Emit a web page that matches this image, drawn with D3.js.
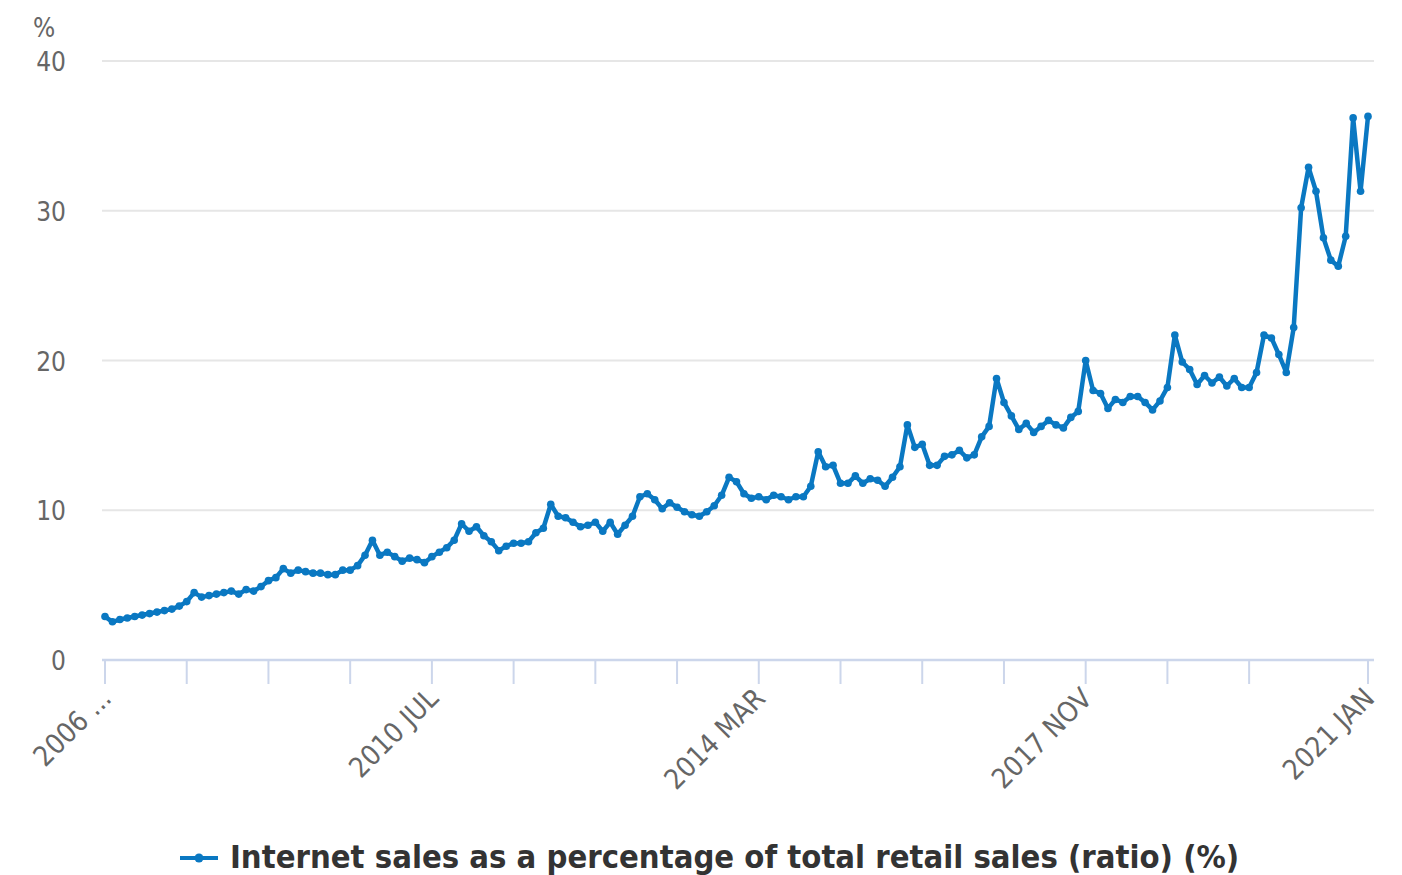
<!DOCTYPE html>
<html>
<head>
<meta charset="utf-8">
<style>
  body { margin: 0; background: #fff; }
  svg { display: block; font-family: "DejaVu Sans", sans-serif; }
  .cond { font-stretch: condensed; }
</style>
</head>
<body>
<script src="https://cdn.jsdelivr.net/npm/d3@7"></script>
<script>
// monthly series, Nov 2006 .. Jan 2021
var startMonth = new Date(2006, 10, 1)
var values = [
  2.9, 2.55, 2.7, 2.8, 2.9, 3.0, 3.1, 3.2, 3.3, 3.4, 3.6, 3.9,
  4.5, 4.2, 4.3, 4.4, 4.5, 4.6, 4.4, 4.7, 4.6, 4.9, 5.3, 5.5,
  6.1, 5.8, 6.0, 5.9, 5.8, 5.8, 5.7, 5.7, 6.0, 6.0, 6.3, 7.0,
  8.0, 7.0, 7.2, 6.9, 6.6, 6.8, 6.7, 6.5, 6.9, 7.2, 7.5, 8.0,
  9.1, 8.6, 8.9, 8.3, 7.9, 7.3, 7.6, 7.8, 7.8, 7.9, 8.5, 8.8,
  10.4, 9.6, 9.5, 9.2, 8.9, 9.0, 9.2, 8.6, 9.2, 8.4, 9.0, 9.6,
  10.9, 11.1, 10.7, 10.1, 10.5, 10.2, 9.9, 9.7, 9.6, 9.9, 10.3, 11.0,
  12.2, 11.9, 11.1, 10.8, 10.9, 10.7, 11.0, 10.9, 10.7, 10.9, 10.9, 11.6,
  13.9, 12.9, 13.0, 11.8, 11.8, 12.3, 11.8, 12.1, 12.0, 11.6, 12.2, 12.9,
  15.7, 14.2, 14.4, 13.0, 13.0, 13.6, 13.7, 14.0, 13.5, 13.7, 14.9, 15.6,
  18.8, 17.2, 16.3, 15.4, 15.8, 15.2, 15.6, 16.0, 15.7, 15.5, 16.2, 16.6,
  20.0, 18.0, 17.8, 16.8, 17.4, 17.2, 17.6, 17.6, 17.2, 16.7, 17.3, 18.2,
  21.7, 19.9, 19.4, 18.4, 19.0, 18.5, 18.9, 18.3, 18.8, 18.2, 18.2, 19.2,
  21.7, 21.5, 20.4, 19.2, 22.2, 30.2, 32.9, 31.3, 28.2, 26.7, 26.3, 28.3,
  36.2, 31.3, 36.3
]
var yTicks = [0, 10, 20, 30, 40]
var xTickIdx = [0, 11, 22, 33, 44, 55, 66, 77, 88, 99, 110, 121, 132, 143, 154, 170]
var xLabelIdx = [0, 44, 88, 132, 170]
var xLabels = ["2006 ...", "2010 JUL", "2014 MAR", "2017 NOV", "2021 JAN"]
var seriesName = "Internet sales as a percentage of total retail sales (ratio) (%)"

var months = values.map((v, i) => d3.timeMonth.offset(startMonth, i))
var data = values.map((v, i) => ({i: i, month: months[i], value: v}))

var width = 1402, height = 875
var blue = "#0a78c2"

var svg = d3.select("body").append("svg")
    .attr("width", width)
    .attr("height", height)

var x = d3.scaleLinear().domain([0, values.length - 1]).range([105, 1368])
var y = d3.scaleLinear().domain([0, 40]).range([660, 61])

// gridlines
svg.selectAll(".grid")
    .data(yTicks.filter(d => d > 0))
    .enter().append("line")
    .attr("x1", 102).attr("x2", 1374)
    .attr("y1", d => y(d)).attr("y2", d => y(d))
    .attr("stroke", "#e6e6e6")
    .attr("stroke-width", 2)

// y labels
svg.selectAll(".ylab")
    .data(yTicks)
    .enter().append("text")
    .attr("class", "cond")
    .attr("x", 66)
    .attr("y", d => y(d) + 10)
    .attr("text-anchor", "end")
    .attr("fill", "#666")
    .style("font-size", "26px")
    .text(d => d)

svg.append("text")
    .attr("class", "cond")
    .attr("x", 33).attr("y", 37)
    .attr("fill", "#666")
    .style("font-size", "26px")
    .text("%")

// x axis
svg.append("line")
    .attr("x1", 102).attr("x2", 1374)
    .attr("y1", 660).attr("y2", 660)
    .attr("stroke", "#ccd6eb")
    .attr("stroke-width", 2.5)

svg.selectAll(".xtick")
    .data(xTickIdx)
    .enter().append("line")
    .attr("x1", d => x(d)).attr("x2", d => x(d))
    .attr("y1", 660).attr("y2", 684)
    .attr("stroke", "#ccd6eb")
    .attr("stroke-width", 2)

svg.selectAll(".xlab")
    .data(xLabelIdx)
    .enter().append("text")
    .attr("class", "cond")
    .attr("text-anchor", "end")
    .attr("fill", "#666")
    .style("font-size", "28px")
    .attr("transform", d => `translate(${x(d) + 8},${700}) rotate(-45)`)
    .text((d, k) => xLabels[k])

// series
var line = d3.line()
    .x(d => x(d.i))
    .y(d => y(d.value))

svg.append("path")
    .datum(data)
    .attr("d", line)
    .attr("fill", "none")
    .attr("stroke", blue)
    .attr("stroke-width", 4.5)
    .attr("stroke-linejoin", "round")

svg.selectAll(".dot")
    .data(data)
    .enter().append("circle")
    .attr("cx", d => x(d.i))
    .attr("cy", d => y(d.value))
    .attr("r", 3.8)
    .attr("fill", blue)

// legend
var legend = svg.append("g").attr("transform", "translate(180,858)")
legend.append("line")
    .attr("x1", 0).attr("x2", 38)
    .attr("stroke", blue).attr("stroke-width", 4)
legend.append("circle")
    .attr("cx", 19).attr("r", 4.5).attr("fill", blue)
legend.append("text")
    .attr("class", "cond")
    .attr("x", 50).attr("y", 10)
    .attr("fill", "#333")
    .style("font-size", "32.5px")
    .style("font-weight", "bold")
    .text(seriesName)
</script>
</body>
</html>
